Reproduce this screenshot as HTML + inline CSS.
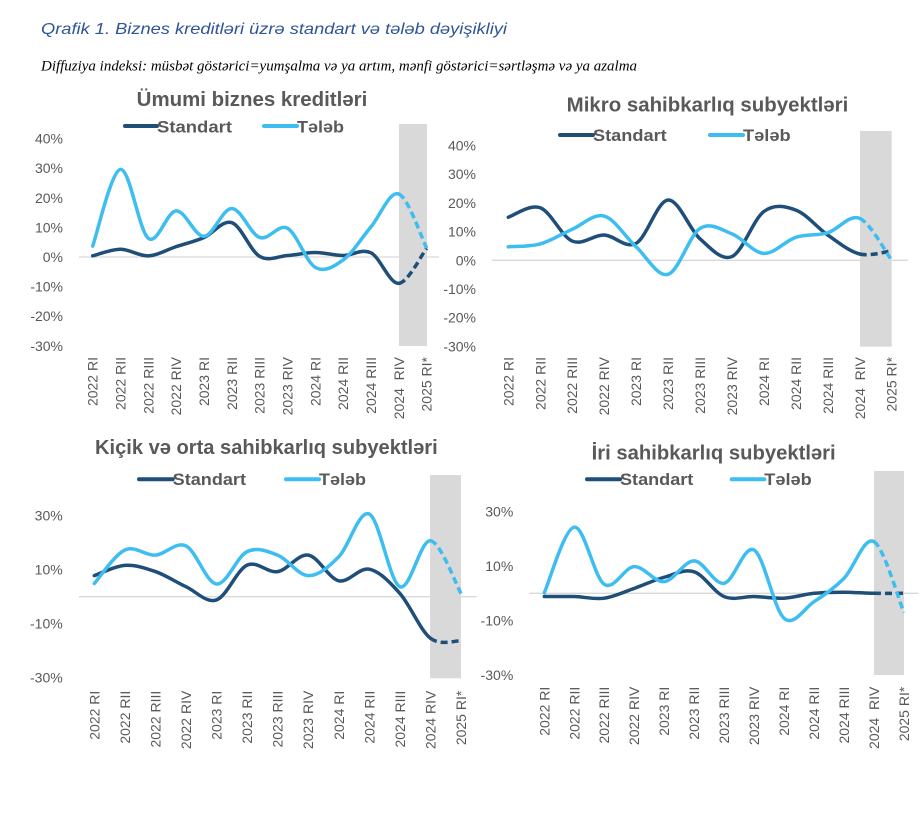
<!DOCTYPE html>
<html><head><meta charset="utf-8"><style>
html,body{margin:0;padding:0;background:#fff;}
svg{display:block;}
.t{font-family:"Liberation Sans",Arial,sans-serif;fill:#595959;}
.ax{font-size:14px;}
.ttl{font-size:20px;font-weight:bold;}
.lg{font-size:17px;font-weight:bold;}
</style></head><body>
<svg id="s" width="924" height="829" viewBox="0 0 924 829" xmlns="http://www.w3.org/2000/svg">
<rect width="924" height="829" fill="#fff"/>
<text x="41" y="34" textLength="466" lengthAdjust="spacingAndGlyphs" style="font-family:'Liberation Sans',Arial,sans-serif;font-style:italic;font-size:16px;fill:#2F5496;">Qrafik 1. Biznes kreditləri üzrə standart və tələb dəyişikliyi</text>
<text x="41" y="70.7" textLength="596" lengthAdjust="spacingAndGlyphs" style="font-family:'Liberation Serif','Times New Roman',serif;font-style:italic;font-size:14.5px;fill:#000;">Diffuziya indeksi: müsbət göstərici=yumşalma və ya artım, mənfi göstərici=sərtləşmə və ya azalma</text>

<!-- gray bands -->
<rect x="399" y="124" width="28" height="222" fill="#D9D9D9"/>
<rect x="860" y="131" width="31.7" height="215.7" fill="#D9D9D9"/>
<rect x="430" y="475" width="31" height="203.3" fill="#D9D9D9"/>
<rect x="874" y="471" width="30" height="204" fill="#D9D9D9"/>

<!-- zero lines -->
<line x1="79" y1="257" x2="439" y2="257" stroke="#D9D9D9" stroke-width="1.3"/>
<line x1="491.7" y1="260.3" x2="908" y2="260.3" stroke="#D9D9D9" stroke-width="1.3"/>
<line x1="79" y1="596.7" x2="476.7" y2="596.7" stroke="#D9D9D9" stroke-width="1.3"/>
<line x1="529.3" y1="593.3" x2="918.3" y2="593.3" stroke="#D9D9D9" stroke-width="1.3"/>

<!-- titles -->
<text class="t ttl" x="136.7" y="106" textLength="230.6" lengthAdjust="spacingAndGlyphs">Ümumi biznes kreditləri</text>
<text class="t ttl" x="566.7" y="111.7" textLength="281.6" lengthAdjust="spacingAndGlyphs">Mikro sahibkarlıq subyektləri</text>
<text class="t ttl" x="95" y="454" textLength="342.7" lengthAdjust="spacingAndGlyphs">Kiçik və orta sahibkarlıq subyektləri</text>
<text class="t ttl" x="591.7" y="459.3" textLength="244" lengthAdjust="spacingAndGlyphs">İri sahibkarlıq subyektləri</text>

<!-- legends -->
<g stroke-width="4" stroke-linecap="round">
<line x1="125" y1="126" x2="157" y2="126" stroke="#1F4E79"/>
<line x1="264" y1="126" x2="297" y2="126" stroke="#3DBDF0"/>
<line x1="560" y1="135" x2="593" y2="135" stroke="#1F4E79"/>
<line x1="710" y1="135" x2="743" y2="135" stroke="#3DBDF0"/>
<line x1="139" y1="479.3" x2="172.7" y2="479.3" stroke="#1F4E79"/>
<line x1="286" y1="479.3" x2="319" y2="479.3" stroke="#3DBDF0"/>
<line x1="587" y1="479.3" x2="620" y2="479.3" stroke="#1F4E79"/>
<line x1="731.7" y1="479.3" x2="764.3" y2="479.3" stroke="#3DBDF0"/>
</g>
<text class="t lg" x="157" y="132.3" textLength="75" lengthAdjust="spacingAndGlyphs">Standart</text>
<text class="t lg" x="297" y="132.3" textLength="47" lengthAdjust="spacingAndGlyphs">Tələb</text>
<text class="t lg" x="593" y="141" textLength="73.7" lengthAdjust="spacingAndGlyphs">Standart</text>
<text class="t lg" x="743" y="141" textLength="47.7" lengthAdjust="spacingAndGlyphs">Tələb</text>
<text class="t lg" x="172.7" y="485" textLength="73.3" lengthAdjust="spacingAndGlyphs">Standart</text>
<text class="t lg" x="319" y="485" textLength="47" lengthAdjust="spacingAndGlyphs">Tələb</text>
<text class="t lg" x="620" y="485" textLength="73.3" lengthAdjust="spacingAndGlyphs">Standart</text>
<text class="t lg" x="764.3" y="485" textLength="47.4" lengthAdjust="spacingAndGlyphs">Tələb</text>

<!-- y labels -->
<g class="t ax" text-anchor="end">
<text x="63" y="143.6">40%</text>
<text x="63" y="173.2">30%</text>
<text x="63" y="202.8">20%</text>
<text x="63" y="232.4">10%</text>
<text x="63" y="262">0%</text>
<text x="63" y="291.6">-10%</text>
<text x="63" y="321.2">-20%</text>
<text x="63" y="350.8">-30%</text>

<text x="476" y="150.5">40%</text>
<text x="476" y="179.2">30%</text>
<text x="476" y="207.9">20%</text>
<text x="476" y="236.6">10%</text>
<text x="476" y="265.3">0%</text>
<text x="476" y="294">-10%</text>
<text x="476" y="322.7">-20%</text>
<text x="476" y="351.4">-30%</text>

<text x="62.7" y="520.7">30%</text>
<text x="62.7" y="574.7">10%</text>
<text x="62.7" y="628.7">-10%</text>
<text x="62.7" y="682.7">-30%</text>

<text x="513.3" y="516.7">30%</text>
<text x="513.3" y="571.1">10%</text>
<text x="513.3" y="625.5">-10%</text>
<text x="513.3" y="679.9">-30%</text>
</g>

<!-- category labels -->
<g class="t ax" text-anchor="end">
<text transform="translate(97.7,357) rotate(-90)">2022 RI</text>
<text transform="translate(125.5,357) rotate(-90)">2022 RII</text>
<text transform="translate(153.4,357) rotate(-90)">2022 RIII</text>
<text transform="translate(181.2,357) rotate(-90)">2022 RIV</text>
<text transform="translate(209,357) rotate(-90)">2023 RI</text>
<text transform="translate(236.9,357) rotate(-90)">2023 RII</text>
<text transform="translate(264.7,357) rotate(-90)">2023 RIII</text>
<text transform="translate(292.5,357) rotate(-90)">2023 RIV</text>
<text transform="translate(320.3,357) rotate(-90)">2024 RI</text>
<text transform="translate(348.2,357) rotate(-90)">2024 RII</text>
<text transform="translate(376,357) rotate(-90)">2024 RIII</text>
<text transform="translate(403.8,357) rotate(-90)">2024&#160; RIV</text>
<text transform="translate(431.7,357) rotate(-90)">2025 RI*</text>

<text transform="translate(513.3,357) rotate(-90)">2022 RI</text>
<text transform="translate(545.3,357) rotate(-90)">2022 RII</text>
<text transform="translate(577.2,357) rotate(-90)">2022 RIII</text>
<text transform="translate(609.2,357) rotate(-90)">2022 RIV</text>
<text transform="translate(641.1,357) rotate(-90)">2023 RI</text>
<text transform="translate(673.1,357) rotate(-90)">2023 RII</text>
<text transform="translate(705,357) rotate(-90)">2023 RIII</text>
<text transform="translate(737,357) rotate(-90)">2023 RIV</text>
<text transform="translate(768.9,357) rotate(-90)">2024 RI</text>
<text transform="translate(800.9,357) rotate(-90)">2024 RII</text>
<text transform="translate(832.8,357) rotate(-90)">2024 RIII</text>
<text transform="translate(864.8,357) rotate(-90)">2024&#160; RIV</text>
<text transform="translate(896.7,357) rotate(-90)">2025 RI*</text>

<text transform="translate(99.3,690.7) rotate(-90)">2022 RI</text>
<text transform="translate(129.9,690.7) rotate(-90)">2022 RII</text>
<text transform="translate(160.4,690.7) rotate(-90)">2022 RIII</text>
<text transform="translate(191,690.7) rotate(-90)">2022 RIV</text>
<text transform="translate(221.5,690.7) rotate(-90)">2023 RI</text>
<text transform="translate(252.1,690.7) rotate(-90)">2023 RII</text>
<text transform="translate(282.7,690.7) rotate(-90)">2023 RIII</text>
<text transform="translate(313.2,690.7) rotate(-90)">2023 RIV</text>
<text transform="translate(343.8,690.7) rotate(-90)">2024 RI</text>
<text transform="translate(374.3,690.7) rotate(-90)">2024 RII</text>
<text transform="translate(404.9,690.7) rotate(-90)">2024 RIII</text>
<text transform="translate(435.5,690.7) rotate(-90)">2024 RIV</text>
<text transform="translate(466,690.7) rotate(-90)">2025 RI*</text>

<text transform="translate(549.3,686.7) rotate(-90)">2022 RI</text>
<text transform="translate(579.3,686.7) rotate(-90)">2022 RII</text>
<text transform="translate(609.2,686.7) rotate(-90)">2022 RIII</text>
<text transform="translate(639.2,686.7) rotate(-90)">2022 RIV</text>
<text transform="translate(669.2,686.7) rotate(-90)">2023 RI</text>
<text transform="translate(699.2,686.7) rotate(-90)">2023 RII</text>
<text transform="translate(729.1,686.7) rotate(-90)">2023 RIII</text>
<text transform="translate(759.1,686.7) rotate(-90)">2023 RIV</text>
<text transform="translate(789.1,686.7) rotate(-90)">2024 RI</text>
<text transform="translate(819,686.7) rotate(-90)">2024 RII</text>
<text transform="translate(849,686.7) rotate(-90)">2024 RIII</text>
<text transform="translate(879,686.7) rotate(-90)">2024&#160; RIV</text>
<text transform="translate(909,686.7) rotate(-90)">2025 RI*</text>
</g>

<g id="series" fill="none" stroke-width="3.5"></g>
</svg>
<script>
(function(){
var NS="http://www.w3.org/2000/svg";
var g=document.getElementById("series");
var charts=[
 {x0:92.7,dx:27.83,y0:257,k:2.96,
  S:[0.4,2.6,0.4,3.5,6.6,11.6,0.2,0.5,1.5,0.5,1.4,-8.9,3],
  T:[3.7,29.6,6.3,15.6,7,16.4,6.6,9.7,-3.5,-1.0,10.2,21.3,3]},
 {x0:508.3,dx:31.95,y0:260.3,k:2.87,
  S:[15,18.3,6.7,8.8,5.9,21,7.5,1.3,17,17.5,8.8,2.2,3.3],
  T:[4.7,5.7,10.8,15.4,4.7,-4.9,11.1,9.2,2.4,8,9.6,14.6,0]},
 {x0:94.3,dx:30.56,y0:596.7,k:2.7,
  S:[7.8,11.6,9.3,3.7,-1.2,11.7,9.3,15.4,5.9,10.2,1.2,-15.4,-16.3],
  T:[4.9,17.3,15.4,18.8,4.7,16.7,15.4,7.8,14.8,30.6,3.7,20.7,1.2]},
 {x0:544.3,dx:29.97,y0:593.3,k:2.72,
  S:[-1.2,-1.2,-1.8,1.8,5.9,7.9,-1.2,-1.2,-1.8,0,0.4,0,0],
  T:[0.2,24.3,3.3,9.8,4.3,11.9,3.7,15.9,-9.2,-3.1,5.5,19,-7.1]}
];
function seg(p,a,b){
 var n=p.length,d="M"+p[a][0].toFixed(2)+","+p[a][1].toFixed(2);
 for(var i=a;i<b;i++){
  var p0=p[Math.max(i-1,0)],p1=p[i],p2=p[i+1],p3=p[Math.min(i+2,n-1)];
  var c1x=p1[0]+(p2[0]-p0[0])/6,c1y=p1[1]+(p2[1]-p0[1])/6;
  var c2x=p2[0]-(p3[0]-p1[0])/6,c2y=p2[1]-(p3[1]-p1[1])/6;
  d+=" C"+c1x.toFixed(2)+","+c1y.toFixed(2)+" "+c2x.toFixed(2)+","+c2y.toFixed(2)+" "+p2[0].toFixed(2)+","+p2[1].toFixed(2);
 }
 return d;
}
function add(d,col,dash){
 var e=document.createElementNS(NS,"path");
 e.setAttribute("d",d);e.setAttribute("stroke",col);
 if(dash){e.setAttribute("stroke-dasharray","7 4");e.setAttribute("stroke-linecap","butt");}
 else{e.setAttribute("stroke-linecap","round");e.setAttribute("stroke-linejoin","round");}
 g.appendChild(e);
}
charts.forEach(function(c){
 [["S","#1F4E79"],["T","#3DBDF0"]].forEach(function(s){
  var v=c[s[0]],p=v.map(function(y,i){return [c.x0+c.dx*i,c.y0-y*c.k];});
  add(seg(p,0,11),s[1],false);
  add(seg(p,11,12),s[1],true);
 });
});
})();
</script>
</body></html>
